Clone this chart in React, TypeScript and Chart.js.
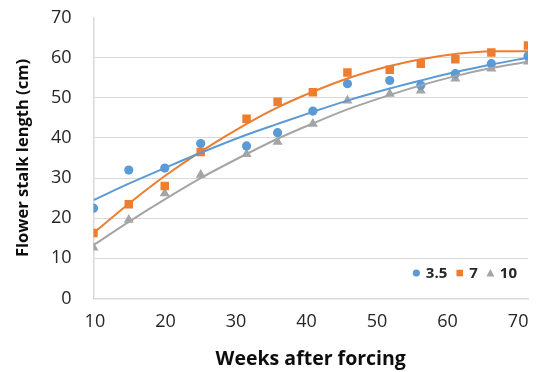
import React, { useEffect, useRef } from "react";
import { Chart, registerables } from "chart.js";

Chart.register(...registerables);

// Weeks after forcing (x positions of the measurements)
const weeks = [9.8, 14.8, 19.9, 25, 31.5, 35.9, 40.9, 45.8, 51.8, 56.2, 61.1, 66.2, 71.4];

// Series names
const seriesNames = ["3.5", "7", "10"];

// Measured flower stalk length (cm)
const series35 = [22.5, 32.0, 32.5, 38.6, 38.0, 41.3, 46.7, 53.5, 54.3, 53.1, 56.0, 58.5, 60.4];
const series7 = [16.3, 23.5, 28.0, 36.5, 44.8, 49.0, 51.4, 56.3, 57.0, 58.5, 59.6, 61.3, 63.0];
const series10 = [12.7, 19.6, 26.2, 30.8, 36.0, 39.0, 43.5, 49.3, 51.0, 51.8, 54.8, 57.3, 59.0];

// Trend lines
const trend35 = [24.5, 28.6, 32.5, 36.3, 40.8, 43.5, 46.5, 49.3, 52.3, 54.3, 56.4, 58.3, 60.0];
const trend7 = [16.3, 23.6, 30.5, 36.6, 43.5, 47.6, 51.5, 54.8, 57.9, 59.6, 60.9, 61.6, 61.6];
const trend10 = [13.3, 19.1, 24.7, 30.0, 36.0, 39.8, 43.6, 47.1, 50.7, 53.1, 55.4, 57.4, 59.0];

const colors = ["#5B9BD5", "#ED7D31", "#A5A5A5"];
const pointStyles = ["circle", "rect", "triangle"];
const pointRadii = [4.6, 6, 5.8];

const FONT = '"Open Sans", "Noto Sans", sans-serif';

const toPts = (ys: number[]) => ys.map((y, i) => ({ x: weeks[i], y }));

const insideLegend = {
  id: "insideLegend",
  afterDraw(chart: any) {
    const ctx = chart.ctx as CanvasRenderingContext2D;
    const area = chart.chartArea;
    ctx.save();
    ctx.font = `bold 15px ${FONT}`;
    ctx.textBaseline = "middle";
    ctx.textAlign = "left";
    const y = area.bottom - 25.5;
    let x = area.right - 11;
    for (let i = seriesNames.length - 1; i >= 0; i--) {
      const w = ctx.measureText(seriesNames[i]).width;
      x -= w;
      ctx.fillStyle = "#262626";
      ctx.fillText(seriesNames[i], x, y + 0.5);
      x -= 6;
      const cx = x - 3.5;
      ctx.fillStyle = colors[i];
      ctx.beginPath();
      if (pointStyles[i] === "circle") {
        ctx.arc(cx, y, 3.6, 0, Math.PI * 2);
      } else if (pointStyles[i] === "rect") {
        ctx.rect(cx - 3.3, y - 3.3, 6.6, 6.6);
      } else {
        ctx.moveTo(cx, y - 4);
        ctx.lineTo(cx + 4, y + 3.5);
        ctx.lineTo(cx - 4, y + 3.5);
        ctx.closePath();
      }
      ctx.fill();
      x -= 7 + 9;
    }
    ctx.restore();
  },
};

export default function App() {
  const canvasRef = useRef<HTMLCanvasElement | null>(null);

  useEffect(() => {
    const canvas = canvasRef.current;
    if (!canvas) return;
    const scatterSets = [series35, series7, series10].map((d, i) => ({
      type: "scatter" as const,
      label: seriesNames[i],
      data: toPts(d),
      backgroundColor: colors[i],
      borderColor: colors[i],
      borderWidth: 0,
      pointStyle: pointStyles[i],
      pointRadius: pointRadii[i],
      order: 2,
    }));
    const trendSets = [trend35, trend7, trend10].map((d, i) => ({
      type: "line" as const,
      label: seriesNames[i] + " trend",
      data: toPts(d),
      borderColor: colors[i],
      backgroundColor: colors[i],
      borderWidth: 2,
      pointRadius: 0,
      fill: false,
      cubicInterpolationMode: "monotone" as const,
      order: 1,
    }));

    const chart = new Chart(canvas, {
      type: "scatter",
      data: { datasets: [...trendSets, ...scatterSets] as any },
      plugins: [insideLegend],
      options: {
        responsive: false,
        animation: false,
        devicePixelRatio: 1,
        layout: { padding: { left: 0, top: 17.5, right: 14, bottom: 0 } },
        plugins: {
          legend: { display: false },
          tooltip: { enabled: false },
        },
        scales: {
          x: {
            type: "linear",
            min: 9.8,
            max: 71.4,
            grid: { display: false, drawTicks: true, tickLength: 11, tickColor: "rgba(0,0,0,0)" },
            border: { display: true, color: "#D9D9D9", width: 1.5 },
            ticks: {
              stepSize: 10,
              includeBounds: false,
              padding: 2,
              color: "#262626",
              font: { family: FONT, size: 18 },
              maxRotation: 0,
            },
            title: {
              display: true,
              text: "Weeks after forcing",
              color: "#0D0D0D",
              font: { family: FONT, size: 19.5, weight: "bold" },
              padding: { top: 0, bottom: 1 },
            },
            afterFit: (scale: any) => {
              scale.height = 73.5;
            },
          },
          y: {
            type: "linear",
            min: 0,
            max: 70,
            grid: {
              drawTicks: true,
              tickLength: 19,
              tickColor: "rgba(0,0,0,0)",
              color: (c: any) => (c.tick && c.tick.value === 70 ? "rgba(0,0,0,0)" : "#D9D9D9"),
              lineWidth: 1,
            },
            border: { display: true, color: "#D9D9D9", width: 1.5 },
            ticks: {
              stepSize: 10,
              padding: 3,
              color: "#262626",
              font: { family: FONT, size: 18 },
            },
            title: {
              display: true,
              text: "Flower stalk length (cm)",
              color: "#0D0D0D",
              font: { family: FONT, size: 16.5, weight: "bold" },
              padding: { top: 13.5, bottom: 0 },
            },
            afterFit: (scale: any) => {
              scale.width = 93.5;
            },
          },
        },
      },
    });
    return () => chart.destroy();
  }, []);

  return (
    <div style={{ position: "absolute", left: 0, top: 0, width: 542, height: 372, background: "#fff" }}>
      <canvas ref={canvasRef} width={542} height={372} style={{ display: "block" }} />
    </div>
  );
}
